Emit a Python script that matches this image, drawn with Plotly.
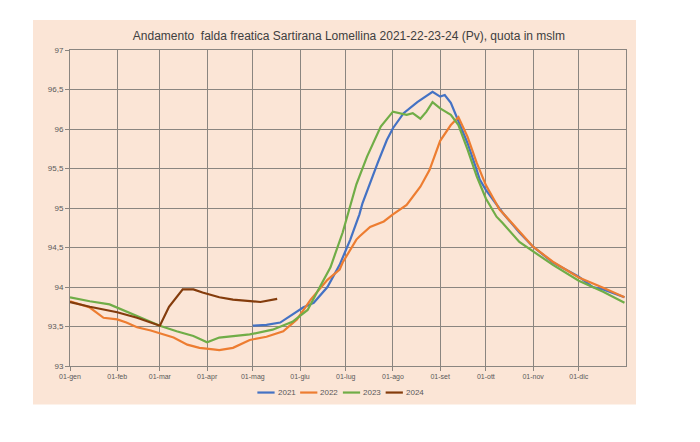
import plotly.graph_objects as go

# reference year only used to place day/month on a common axis
YEAR = "2023"

# 2021 (series starts in May)
d2021 = ["05-01", "05-10", "05-19", "05-27", "06-03", "06-10", "06-19", "06-27",
         "07-04", "07-10", "07-12", "07-22", "07-28", "08-01", "08-08", "08-17",
         "08-25", "08-27", "09-01", "09-04", "09-08", "09-12", "09-19", "09-25",
         "09-27", "10-01", "10-10", "10-12", "10-23", "11-01", "11-14", "12-01",
         "12-10", "12-17", "12-31"]
v2021 = [93.51, 93.52, 93.55, 93.65, 93.74, 93.80, 94.00, 94.28,
         94.60, 94.92, 95.06, 95.57, 95.86, 96.01, 96.20, 96.34,
         96.45, 96.47, 96.41, 96.43, 96.33, 96.14, 95.82, 95.48,
         95.36, 95.23, 95.00, 94.94, 94.69, 94.51, 94.31, 94.13,
         94.00, 93.97, 93.87]

d2022 = ["01-01", "01-14", "01-23", "02-01", "02-07", "02-14", "02-23", "03-01",
         "03-10", "03-19", "03-27", "04-05", "04-09", "04-18", "04-29", "05-10",
         "05-21", "05-30", "06-08", "06-19", "06-27", "06-29", "07-08", "07-10",
         "07-17", "07-26", "08-01", "08-10", "08-19", "08-25", "09-01", "09-08",
         "09-13", "09-19", "09-25", "10-01", "10-10", "10-12", "10-23", "11-01",
         "11-14", "12-01", "12-17", "12-31"]
v2022 = [93.82, 93.74, 93.61, 93.59, 93.55, 93.49, 93.45, 93.41,
         93.36, 93.27, 93.23, 93.21, 93.20, 93.23, 93.33, 93.37,
         93.44, 93.59, 93.84, 94.09, 94.22, 94.31, 94.60, 94.64,
         94.76, 94.83, 94.92, 95.04, 95.27, 95.48, 95.85, 96.05,
         96.15, 95.90, 95.57, 95.29, 94.98, 94.94, 94.70, 94.51,
         94.32, 94.12, 93.99, 93.87]

d2023 = ["01-01", "01-14", "01-27", "02-07", "02-18", "03-01", "03-12", "03-23",
         "04-01", "04-09", "04-29", "05-14", "05-27", "06-06", "06-14", "06-21",
         "06-29", "07-08", "07-15", "07-24", "08-01", "08-10", "08-14", "08-19",
         "08-23", "08-27", "09-01", "09-08", "09-13", "09-19", "09-25", "10-01",
         "10-08", "10-12", "10-23", "11-01", "11-14", "12-01", "12-17", "12-31"]
v2023 = [93.87, 93.82, 93.78, 93.69, 93.61, 93.51, 93.44, 93.38,
         93.30, 93.36, 93.40, 93.46, 93.56, 93.71, 94.00, 94.25,
         94.69, 95.30, 95.65, 96.03, 96.22, 96.18, 96.20, 96.13,
         96.22, 96.34, 96.26, 96.18, 96.05, 95.74, 95.40, 95.12,
         94.89, 94.81, 94.57, 94.45, 94.28, 94.08, 93.94, 93.80]

# 2024 (series stops mid May)
d2024 = ["01-01", "01-14", "02-01", "02-14", "03-01", "03-07", "03-16", "03-23",
         "03-29", "04-09", "04-18", "04-29", "05-06", "05-17"]
v2024 = [93.81, 93.75, 93.68, 93.61, 93.51, 93.75, 93.97, 93.97,
         93.93, 93.87, 93.84, 93.82, 93.81, 93.85]

series = [
    ("2021", d2021, v2021, "#4472C4"),
    ("2022", d2022, v2022, "#ED7D31"),
    ("2023", d2023, v2023, "#70AD47"),
    ("2024", d2024, v2024, "#843C0C"),
]

month_starts = ["01-01", "02-01", "03-01", "04-01", "05-01", "06-01",
                "07-01", "08-01", "09-01", "10-01", "11-01", "12-01"]
month_labels = ["01-gen", "01-feb", "01-mar", "01-apr", "01-mag", "01-giu",
                "01-lug", "01-ago", "01-set", "01-ott", "01-nov", "01-dic"]

y_ticks = [93, 93.5, 94, 94.5, 95, 95.5, 96, 96.5, 97]
y_labels = ["93", "93,5", "94", "94,5", "95", "95,5", "96", "96,5", "97"]

peach = "#FBE5D6"
grid = "#8a8580"

fig = go.Figure()
for name, dates, vals, color in series:
    fig.add_trace(go.Scatter(
        x=[f"{YEAR}-{d}" for d in dates], y=vals, name=name, mode="lines",
        line=dict(color=color, width=2.2), hoverinfo="skip", showlegend=False,
    ))

# compact Excel-like legend (plotly's own legend symbols are too wide)
shapes = [dict(
    type="rect", xref="paper", yref="paper",
    x0=-0.0665, x1=1.018, y0=-0.1216, y1=1.0948,
    fillcolor=peach, line=dict(width=0), layer="below",
)]
annotations = []
leg_x0, leg_pitch, leg_line, leg_y = 0.337, 0.0769, 0.031, -0.084
for i, (name, _, _, color) in enumerate(series):
    x0 = leg_x0 + i * leg_pitch
    shapes.append(dict(type="line", xref="paper", yref="paper",
                       x0=x0, x1=x0 + leg_line, y0=leg_y, y1=leg_y,
                       line=dict(color=color, width=2.2)))
    annotations.append(dict(xref="paper", yref="paper", x=x0 + leg_line + 0.002,
                            y=leg_y, text=name, showarrow=False,
                            xanchor="left", yanchor="middle",
                            font=dict(size=8, color="#595959")))

# page body adds an 8px offset, margins compensate for it
fig.update_layout(
    width=700, height=442,
    margin=dict(l=62, r=82, t=42, b=84),
    paper_bgcolor="white",
    plot_bgcolor="rgba(0,0,0,0)",
    font=dict(family="Liberation Sans", color="#595959"),
    title=dict(
        text="Andamento  falda freatica Sartirana Lomellina 2021-22-23-24 (Pv), quota in mslm",
        x=0.487, xanchor="center", y=0.938, yanchor="middle",
        font=dict(size=12, color="#404040"),
    ),
    showlegend=False,
    shapes=shapes,
    annotations=annotations,
)

fig.update_xaxes(
    type="date",
    range=[f"{YEAR}-01-01", "2024-01-01"],
    tickvals=[f"{YEAR}-{d}" for d in month_starts],
    ticktext=month_labels,
    tickfont=dict(size=7),
    showgrid=True, gridcolor=grid, gridwidth=1,
    showline=True, linecolor=grid, linewidth=1, mirror=True,
    ticks="outside", ticklen=4, tickcolor=grid,
    zeroline=False,
)
fig.update_yaxes(
    range=[93, 97],
    tickvals=y_ticks, ticktext=y_labels,
    tickfont=dict(size=8),
    showgrid=True, gridcolor=grid, gridwidth=1,
    showline=True, linecolor=grid, linewidth=1, mirror=True,
    ticks="outside", ticklen=4, tickcolor=grid,
    zeroline=False,
)

fig.write_html("out.html")
